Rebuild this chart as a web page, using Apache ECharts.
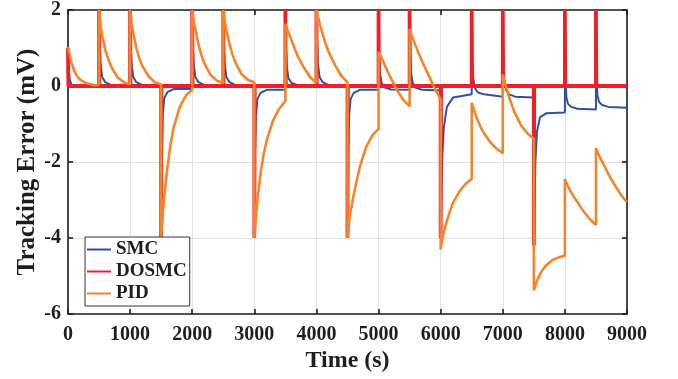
<!DOCTYPE html>
<html>
<head>
<meta charset="utf-8">
<script src="https://cdn.jsdelivr.net/npm/echarts@6/dist/echarts.min.js"></script>
<style>
html,body{margin:0;padding:0;background:#fff;}
#chart{width:678px;height:379px;}
</style>
</head>
<body>
<div id="chart"></div>
<script>
// ---- data ----
const eventTimes = [0,500,1000,1500,2000,2500,3000,3500,4000,4500,5000,5500,6000,6500,7000,7500,8000,8500];
const endTime = 9000;
const xTicks = [0,1000,2000,3000,4000,5000,6000,7000,8000,9000];
const yTicks = [-6,-4,-2,0,2];
const seriesNames = ['SMC','DOSMC','PID'];

// SMC: sampled offsets (s) after each event, and values (mV)
const smcOffsets = [0,10,25,50,100,200,500];
const smcSegments = [
  [1.0, 0.5, 0.2, 0.05, 0.0, 0.0, 0.0],
  [2, 1.1, 0.56, 0.24, 0.1, 0.02, 0.0],
  [2, 1.1, 0.56, 0.24, 0.1, 0.02, 0.0],
  [-4, -1.84, -0.79, -0.32, -0.16, -0.08, -0.08],
  [2, 1.1, 0.56, 0.24, 0.1, 0.02, 0.0],
  [2, 1.1, 0.56, 0.24, 0.1, 0.02, 0.0],
  [-4, -1.85, -0.8, -0.34, -0.18, -0.1, -0.1],
  [1.7, 0.95, 0.48, 0.2, 0.08, 0.02, 0.0],
  [2, 1.1, 0.56, 0.24, 0.1, 0.02, 0.0],
  [-4, -1.85, -0.8, -0.34, -0.18, -0.1, -0.1],
  [1.4, 0.72, 0.31, 0.07, -0.04, -0.09, -0.1],
  [1.5, 0.77, 0.34, 0.08, -0.05, -0.1, -0.12],
  [-4.0, -3.0, -1.9, -1.1, -0.55, -0.3, -0.22],
  [1.3, 0.6, 0.2, -0.05, -0.17, -0.22, -0.28],
  [1.3, 0.58, 0.17, -0.1, -0.22, -0.28, -0.3],
  [-4.2, -3.1, -2.0, -1.2, -0.82, -0.72, -0.7],
  [0.94, 0.1, -0.3, -0.47, -0.55, -0.6, -0.62],
  [1.1, 0.2, -0.25, -0.42, -0.5, -0.55, -0.57]
];

// DOSMC: spike at each event then back to ~0
const dosmcOffsets = [0,6,500];
const dosmcSegments = [
  [1.0,0,0],[2,0,0],[2,0,0],[-4,0,0],[2,0,0],[2,0,0],
  [-4,0,0],[2,0,0],[2,0,0],[-4,0,0],[2,0,0],[2,0,0],
  [-4,0,0],[2,0,0],[2,0,0],[-4.2,0,0],[2,0,0],[2,0,0]
];

// PID
const pidOffsets = [0,25,50,100,150,200,300,400,500];
const pidSegments = [
  [1.03, 0.85, 0.65, 0.4, 0.25, 0.16, 0.07, 0.03, 0.02],
  [2, 1.6, 1.32, 0.95, 0.7, 0.5, 0.22, 0.1, 0.04],
  [2, 1.65, 1.4, 1.0, 0.72, 0.52, 0.25, 0.1, 0.04],
  [-4, -3.4, -2.9, -2.15, -1.55, -1.1, -0.55, -0.25, -0.1],
  [2, 1.7, 1.5, 1.1, 0.8, 0.58, 0.28, 0.14, 0.08],
  [2, 1.7, 1.45, 1.1, 0.82, 0.6, 0.3, 0.16, 0.1],
  [-4, -3.45, -3.0, -2.3, -1.8, -1.42, -0.92, -0.6, -0.4],
  [1.64, 1.52, 1.41, 1.2, 0.98, 0.78, 0.48, 0.23, 0.08],
  [2, 1.82, 1.66, 1.36, 1.1, 0.88, 0.55, 0.27, 0.1],
  [-4, -3.55, -3.3, -2.86, -2.48, -2.12, -1.6, -1.3, -1.13],
  [0.9, 0.82, 0.74, 0.55, 0.37, 0.2, -0.12, -0.37, -0.53],
  [1.5, 1.38, 1.26, 1.05, 0.84, 0.65, 0.3, -0.05, -0.35],
  [-4.3, -4.05, -3.85, -3.55, -3.3, -3.07, -2.78, -2.58, -2.45],
  [-0.44, -0.58, -0.7, -0.92, -1.1, -1.25, -1.48, -1.65, -1.77],
  [0.3, 0.15, 0.0, -0.28, -0.52, -0.73, -1.05, -1.25, -1.39],
  [-5.38, -5.25, -5.13, -4.95, -4.82, -4.72, -4.58, -4.51, -4.47],
  [-2.45, -2.55, -2.64, -2.8, -2.93, -3.05, -3.3, -3.5, -3.66],
  [-1.64, -1.74, -1.83, -1.99, -2.15, -2.32, -2.6, -2.86, -3.06]
];

// ---- build [t, v] pairs ----
function build(offsets, segments) {
  const out = [];
  segments.forEach((vals, i) => {
    const t0 = eventTimes[i];
    const tEnd = i + 1 < eventTimes.length ? eventTimes[i + 1] : endTime;
    offsets.forEach((o, j) => {
      const t = t0 + o;
      if (t <= tEnd) out.push([t, vals[j]]);
    });
  });
  return out;
}

const FONT = "'Liberation Serif','Times New Roman',serif";
const INK = '#1e1e1e';
const colors = ['#2d51a6', '#ee1f26', '#f5842c'];

const chart = echarts.init(document.getElementById('chart'), null, {renderer: 'canvas'});
const baseAxis = {
  type: 'value',
  axisLine: {show: true, onZero: false, lineStyle: {color: INK, width: 1.6}},
  axisTick: {show: true, inside: true, length: 5, lineStyle: {color: INK, width: 1.6}},
};
chart.setOption({
  animation: false,
  backgroundColor: '#fff',
  color: colors,
  grid: {left: 68, right: 51, top: 5, bottom: 65, containLabel: false},
  legend: {
    data: seriesNames,
    orient: 'vertical',
    left: 85, top: 237,
    icon: 'rect', itemWidth: 24, itemHeight: 2, itemGap: 3,
    padding: [3, 3, 3, 2],
    borderColor: '#333', borderWidth: 1, backgroundColor: '#fff',
    textStyle: {fontFamily: FONT, fontWeight: 'bold', fontSize: 19, color: INK}
  },
  xAxis: [
    Object.assign({}, baseAxis, {
      min: 0, max: 9000, interval: 1000, position: 'bottom',
      splitLine: {show: true, lineStyle: {color: '#e2e2e2', width: 1}},
      axisLabel: {fontFamily: FONT, fontWeight: 'bold', fontSize: 20, color: INK, margin: 11,
        formatter: v => xTicks.includes(v) ? String(v) : ''},
      name: 'Time (s)', nameLocation: 'middle', nameGap: 35, nameMoveOverlap: false,
      nameTextStyle: {fontFamily: FONT, fontWeight: 'bold', fontSize: 24, color: INK}
    }),
    Object.assign({}, baseAxis, {
      min: 0, max: 9000, interval: 1000, position: 'top',
      splitLine: {show: false}, axisLabel: {show: false}
    })
  ],
  yAxis: [
    Object.assign({}, baseAxis, {
      min: -6, max: 2, interval: 2, position: 'left',
      splitLine: {show: true, lineStyle: {color: '#e2e2e2', width: 1}},
      axisLabel: {fontFamily: FONT, fontWeight: 'bold', fontSize: 20, color: INK, margin: 7,
        formatter: v => yTicks.includes(v) ? String(v) : ''},
      name: 'Tracking Error (mV)', nameLocation: 'middle', nameGap: 28, nameMoveOverlap: false,
      nameTextStyle: {fontFamily: FONT, fontWeight: 'bold', fontSize: 25, color: INK}
    }),
    Object.assign({}, baseAxis, {
      min: -6, max: 2, interval: 2, position: 'right',
      splitLine: {show: false}, axisLabel: {show: false}
    })
  ],
  series: [
    {name: seriesNames[0], type: 'line', data: build(smcOffsets, smcSegments), showSymbol: false, symbol: 'none',
      lineStyle: {width: 2, color: colors[0]}, itemStyle: {color: colors[0]}, clip: true},
    {name: seriesNames[1], type: 'line', data: build(dosmcOffsets, dosmcSegments), showSymbol: false, symbol: 'none',
      lineStyle: {width: 3.8, color: colors[1]}, itemStyle: {color: colors[1]}, clip: true},
    {name: seriesNames[2], type: 'line', data: build(pidOffsets, pidSegments), showSymbol: false, symbol: 'none',
      lineStyle: {width: 2.6, color: colors[2]}, itemStyle: {color: colors[2]}, clip: true}
  ]
});
</script>
</body>
</html>
